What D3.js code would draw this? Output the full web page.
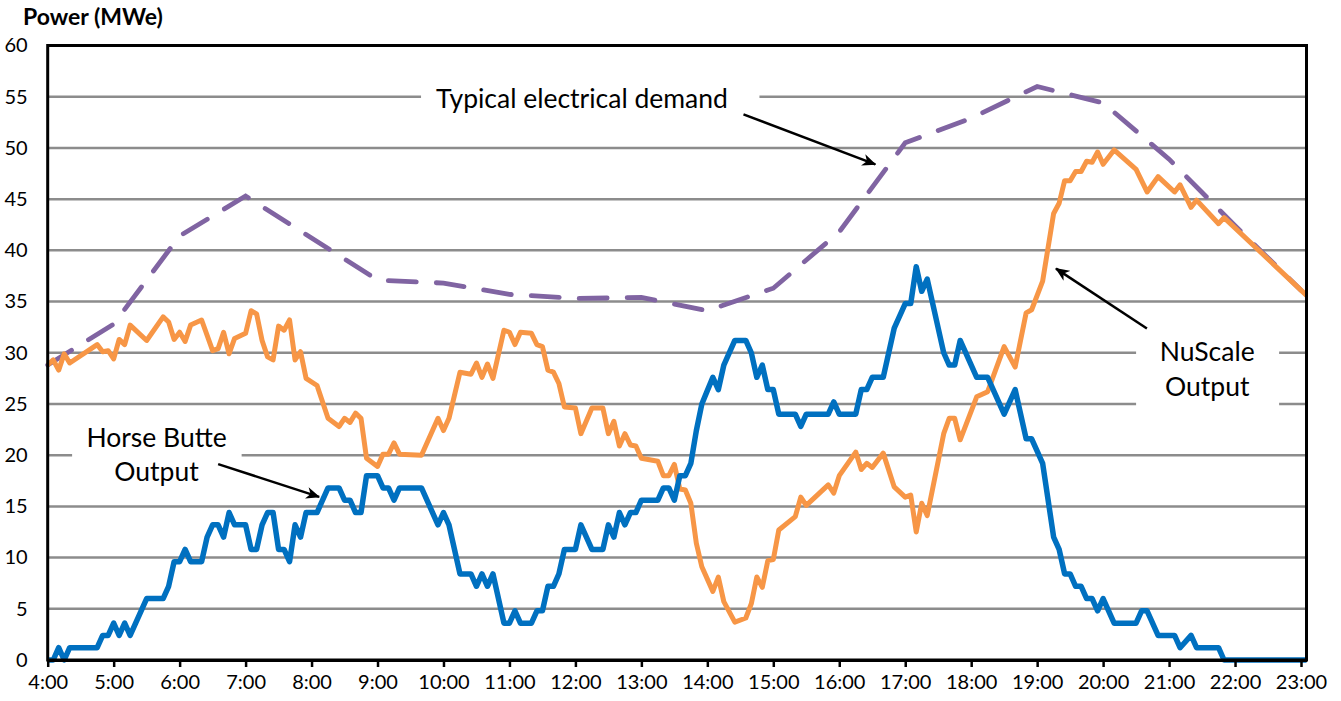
<!DOCTYPE html>
<html>
<head>
<meta charset="utf-8">
<script src="https://cdn.jsdelivr.net/npm/d3@7"></script>
<style>
  body { margin: 0; background: #fff; }
  text { font-family: Lato, "Open Sans", sans-serif; fill: #000; }
</style>
</head>
<body>
<svg id="chart" width="1341" height="701"></svg>
<script>
// Horse Butte wind output, 5 min samples (time, MWe)
const horseButte = [
  ["4:00",0],["4:05",0],["4:10",1.2],["4:15",0],["4:20",1.2],["4:45",1.2],["4:50",2.4],["4:55",2.4],
  ["5:00",3.6],["5:05",2.4],["5:10",3.6],["5:15",2.4],["5:30",6.0],["5:45",6.0],["5:50",7.2],["5:55",9.6],
  ["6:00",9.6],["6:05",10.8],["6:10",9.6],["6:20",9.6],["6:25",12.0],["6:30",13.2],["6:35",13.2],["6:40",12.0],
  ["6:45",14.4],["6:50",13.2],["7:00",13.2],["7:05",10.8],["7:10",10.8],["7:15",13.2],["7:20",14.4],["7:25",14.4],
  ["7:30",10.8],["7:35",10.8],["7:40",9.6],["7:45",13.2],["7:50",12.0],["7:55",14.4],["8:05",14.4],["8:15",16.8],
  ["8:25",16.8],["8:30",15.6],["8:35",15.6],["8:40",14.4],["8:45",14.4],["8:50",18.0],["9:00",18.0],["9:05",16.8],
  ["9:10",16.8],["9:15",15.6],["9:20",16.8],["9:40",16.8],["9:55",13.2],["10:00",14.4],["10:05",13.2],["10:15",8.4],
  ["10:25",8.4],["10:30",7.2],["10:35",8.4],["10:40",7.2],["10:45",8.4],["10:55",3.6],["11:00",3.6],["11:05",4.8],
  ["11:10",3.6],["11:20",3.6],["11:25",4.8],["11:30",4.8],["11:35",7.2],["11:40",7.2],["11:45",8.4],["11:50",10.8],
  ["12:00",10.8],["12:05",13.2],["12:15",10.8],["12:25",10.8],["12:30",13.2],["12:35",12.0],["12:40",14.4],["12:45",13.2],
  ["12:50",14.4],["12:55",14.4],["13:00",15.6],["13:15",15.6],["13:20",16.8],["13:25",16.8],["13:30",15.6],["13:35",18.0],
  ["13:40",18.0],["13:45",19.2],["13:50",22.4],["13:55",25.0],["14:00",26.3],["14:05",27.6],["14:10",26.4],["14:15",28.8],
  ["14:25",31.2],["14:35",31.2],["14:40",30.0],["14:45",27.6],["14:50",28.8],["14:55",26.4],["15:00",26.4],["15:05",24.0],
  ["15:20",24.0],["15:25",22.8],["15:30",24.0],["15:50",24.0],["15:55",25.2],["16:00",24.0],["16:15",24.0],["16:20",26.4],
  ["16:25",26.4],["16:30",27.6],["16:40",27.6],["16:50",32.4],["17:00",34.8],["17:05",34.8],["17:10",38.4],["17:15",36.0],
  ["17:20",37.2],["17:35",30.0],["17:40",28.8],["17:45",28.8],["17:50",31.2],["18:05",27.6],["18:15",27.6],["18:30",24.0],
  ["18:40",26.4],["18:50",21.6],["18:55",21.6],["19:05",19.2],["19:15",12.0],["19:20",10.8],["19:25",8.4],["19:30",8.4],
  ["19:35",7.2],["19:40",7.2],["19:45",6.0],["19:50",6.0],["19:55",4.8],["20:00",6.0],["20:10",3.6],["20:30",3.6],
  ["20:35",4.8],["20:40",4.8],["20:50",2.4],["21:05",2.4],["21:10",1.2],["21:20",2.4],["21:25",1.2],["21:45",1.2],
  ["21:50",0],["23:05",0]
]

// NuScale output (time, MWe)
const nuScale = [
  ["4:00",28.8],["4:05",29.3],["4:10",28.3],["4:15",29.9],["4:20",29.0],["4:45",30.8],["4:50",30.1],["4:55",30.2],
  ["5:00",29.4],["5:05",31.3],["5:10",30.8],["5:15",32.7],["5:30",31.2],["5:45",33.5],["5:50",33.0],["5:55",31.3],
  ["6:00",32.0],["6:05",31.1],["6:10",32.7],["6:20",33.2],["6:30",30.2],["6:35",30.4],["6:40",32.0],["6:45",29.9],
  ["6:50",31.4],["7:00",31.9],["7:05",34.1],["7:10",33.8],["7:15",31.2],["7:20",29.6],["7:25",29.3],["7:30",32.6],
  ["7:35",32.2],["7:40",33.2],["7:45",29.3],["7:50",30.1],["7:55",27.5],["8:05",26.8],["8:15",23.6],["8:25",22.8],
  ["8:30",23.6],["8:35",23.2],["8:40",24.1],["8:45",23.6],["8:50",19.7],["9:00",18.9],["9:05",20.1],["9:10",20.1],
  ["9:15",21.2],["9:20",20.1],["9:40",20.0],["9:55",23.6],["10:00",22.4],["10:05",23.6],["10:15",28.1],["10:25",27.9],
  ["10:30",29.0],["10:35",27.6],["10:40",28.9],["10:45",27.5],["10:55",32.2],["11:00",32.0],["11:05",30.8],["11:10",32.0],
  ["11:20",31.9],["11:25",30.8],["11:30",30.6],["11:35",28.3],["11:40",28.1],["11:45",27.0],["11:50",24.7],["12:00",24.6],
  ["12:05",22.1],["12:15",24.6],["12:25",24.6],["12:30",22.1],["12:35",23.3],["12:40",20.9],["12:45",22.1],["12:50",21.0],
  ["12:55",20.9],["13:00",19.7],["13:15",19.4],["13:20",18.0],["13:25",18.0],["13:30",19.1],["13:35",16.7],["13:40",16.6],
  ["13:45",15.3],["13:50",11.4],["13:55",9.1],["14:05",6.7],["14:10",8.1],["14:15",5.7],["14:25",3.7],["14:35",4.1],
  ["14:40",5.5],["14:45",8.1],["14:50",7.1],["14:55",9.7],["15:00",9.8],["15:05",12.7],["15:20",14.0],["15:25",15.9],
  ["15:30",15.1],["15:50",17.1],["15:55",16.3],["16:00",18.0],["16:15",20.3],["16:20",18.6],["16:25",19.2],["16:30",18.8],
  ["16:40",20.2],["16:50",16.9],["17:00",15.9],["17:05",16.1],["17:10",12.5],["17:15",15.3],["17:20",14.1],["17:35",22.1],
  ["17:40",23.6],["17:45",23.6],["17:50",21.5],["18:05",25.7],["18:15",26.2],["18:30",30.6],["18:40",28.6],["18:50",33.9],
  ["18:55",34.2],["19:05",37.0],["19:15",43.6],["19:20",44.6],["19:25",46.8],["19:30",46.8],["19:35",47.7],["19:40",47.7],
  ["19:45",48.7],["19:50",48.6],["19:55",49.6],["20:00",48.4],["20:10",49.8],["20:30",47.9],["20:40",45.7],["20:50",47.2],
  ["21:05",45.7],["21:10",46.4],["21:20",44.2],["21:25",44.9],["21:45",42.6],["21:50",43.2],["23:05",35.6]
]

// typical electrical demand, hourly
const demandHours = ["4:00","5:00","6:00","7:00","8:00","9:00","10:00","11:00","12:00","13:00",
  "14:00","15:00","16:00","17:00","18:00","19:00","20:00","21:00","22:00","23:00"]
const demandValues = [28.8, 32.8, 41.4, 45.3, 41.2, 37.1, 36.8, 35.7, 35.3, 35.4,
  34.1, 36.3, 41.8, 50.5, 52.9, 56.0, 54.4, 48.9, 42.4, 36.1]

const xTickLabels = d3.range(4, 24).map(h => h + ":00")
const yTicks = d3.range(0, 61, 5)

// annotations, positions in hours / MWe
const notes = [
  {lines: ["Typical electrical demand"], h: 12.10, v: [53.85], box: [9.66, 14.79, 56.6, 52.9],
   arrow: [14.548, 53.27, 16.547, 48.39]},
  {lines: ["Horse Butte", "Output"], h: 5.65, v: [20.81, 17.49], box: [4.37, 6.94, 23.6, 16.4],
   arrow: [6.584, 19.12, 8.115, 15.93]},
  {lines: ["NuScale", "Output"], h: 21.578, v: [29.17, 25.82], box: [20.50, 22.668, 33.0, 22.4],
   arrow: [20.664, 32.36, 19.286, 38.21]}
]

const toMin = s => {
  const [hh, mm] = s.split(":").map(Number)
  return hh * 60 + mm - 240
}

const svg = d3.select("#chart")
const x = d3.scaleLinear().domain([0, 1145]).range([47.7, 1306.5])
const y = d3.scaleLinear().domain([0, 60]).range([660, 45.5])
const xh = h => x((h - 4) * 60)

// grid
svg.append("g").selectAll("line").data(yTicks.filter(d => d > 0 && d < 60)).join("line")
    .attr("x1", x(0)).attr("x2", x(1145))
    .attr("y1", d => y(d)).attr("y2", d => y(d))
    .attr("stroke", "#8c8c8c").attr("stroke-width", 2.5)

// white label boxes that break the grid
svg.append("g").selectAll("rect").data(notes).join("rect")
    .attr("x", d => xh(d.box[0])).attr("width", d => xh(d.box[1]) - xh(d.box[0]))
    .attr("y", d => y(d.box[2])).attr("height", d => y(d.box[3]) - y(d.box[2]))
    .attr("fill", "#fff")

// series
const line = d3.line().x(d => x(toMin(d[0]))).y(d => y(d[1]))
const demand = demandHours.map((t, i) => [t, demandValues[i]])

svg.append("path").datum(demand)
    .attr("d", line).attr("fill", "none")
    .attr("stroke", "#8064A2").attr("stroke-width", 4.8)
    .attr("stroke-dasharray", "28,20").attr("stroke-linecap", "round")

svg.append("path").datum(nuScale)
    .attr("d", line).attr("fill", "none")
    .attr("stroke", "#F79646").attr("stroke-width", 5)
    .attr("stroke-linejoin", "round")

svg.append("path").datum(horseButte)
    .attr("d", line).attr("fill", "none")
    .attr("stroke", "#0070C0").attr("stroke-width", 5.5)
    .attr("stroke-linejoin", "round")

// axes
const xAxis = svg.append("g").attr("transform", `translate(0,${y(0)})`)
    .call(d3.axisBottom(x).tickValues(xTickLabels.map(toMin))
      .tickFormat((d, i) => xTickLabels[i]).tickSize(7).tickSizeOuter(0).tickPadding(8))
xAxis.select(".domain").attr("stroke", "#000").attr("stroke-width", 3)
xAxis.selectAll(".tick line").attr("stroke", "#000").attr("stroke-width", 2.5)
xAxis.selectAll("text").attr("font-size", 20).attr("font-family", "Lato")

const yAxis = svg.append("g").attr("transform", `translate(${x(0)},0)`)
    .call(d3.axisLeft(y).tickValues(yTicks).tickSize(0).tickPadding(20))
yAxis.select(".domain").remove()
yAxis.selectAll("text").attr("font-size", 20).attr("font-family", "Lato")

// plot border
svg.append("rect")
    .attr("x", x(0)).attr("y", y(60))
    .attr("width", x(1145) - x(0)).attr("height", y(0) - y(60))
    .attr("fill", "none").attr("stroke", "#000").attr("stroke-width", 3)

svg.append("text").attr("x", 23).attr("y", 25)
    .attr("font-size", 23).attr("font-weight", "bold")
    .text("Power (MWe)")

// arrows
svg.append("defs").append("marker")
    .attr("id", "head").attr("markerUnits", "userSpaceOnUse")
    .attr("viewBox", "0 0 14 12").attr("refX", 13).attr("refY", 6)
    .attr("markerWidth", 14).attr("markerHeight", 12).attr("orient", "auto")
  .append("path").attr("d", "M0,0 L14,6 L0,12 L4,6 Z").attr("fill", "#000")

svg.append("g").selectAll("line").data(notes).join("line")
    .attr("x1", d => xh(d.arrow[0])).attr("y1", d => y(d.arrow[1]))
    .attr("x2", d => xh(d.arrow[2])).attr("y2", d => y(d.arrow[3]))
    .attr("stroke", "#000").attr("stroke-width", 2.5)
    .attr("marker-end", "url(#head)")

notes.forEach(n => {
  n.lines.forEach((s, i) => {
    svg.append("text").attr("x", xh(n.h)).attr("y", y(n.v[i]))
        .attr("text-anchor", "middle").attr("font-size", 26.5)
        .text(s)
  })
})
</script>
</body>
</html>
